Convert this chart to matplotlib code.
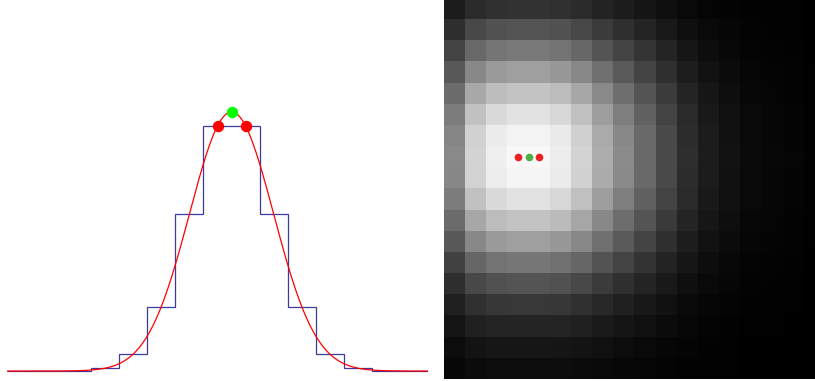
import numpy as np
import matplotlib
matplotlib.use('Agg')
import matplotlib.pyplot as plt

# 1D profile (histogram bins, normalised to the peak bin)
bin_edges = np.arange(16)
bin_values = [0.0, 0.0001, 0.0013, 0.011, 0.068, 0.262, 0.64, 1.0,
              1.0, 0.64, 0.262, 0.068, 0.011, 0.0013, 0.0001]

# gaussian fit
fit_amp = 1.056
fit_mu = 8.0
fit_sigma = 1.5

# marked points
peak_bins_x = [7.5, 8.5]
peak_bins_y = [1.0, 1.0]
sub_peak_x = [8.0]
sub_peak_y = [1.056]

# 2D image: row / column grey levels through the peak (0-255)
row_profile = [51, 85, 122, 160, 197, 227, 245, 249, 246, 227, 196, 160,
               120, 85, 58, 38, 23, 14]
col_profile = [136, 211, 238, 247, 247, 236, 210, 172, 138, 106, 74, 46,
               28, 18, 10, 7, 5, 2]
img_peak = 248.0

img_red_x = [3.0, 4.0]
img_red_y = [7.0, 7.0]
img_green_x = [3.5]
img_green_y = [7.0]

fig = plt.figure(figsize=(8.15, 3.81), dpi=100)
W, H = 815.0, 381.0

# left: profile + fit
ax1 = fig.add_axes([7 / W, (H - 383.3) / H, 421 / W, 294.4 / H])
ax1.stairs(bin_values, bin_edges, color='#3a3aa0', linewidth=0.9)
xs = np.linspace(0, 15, 400)
ax1.plot(xs, fit_amp * np.exp(-(xs - fit_mu) ** 2 / (2 * fit_sigma ** 2)),
         color='red', linewidth=0.9)
ax1.plot(peak_bins_x, peak_bins_y, 'o', color='red', markersize=7.2,
         clip_on=False)
ax1.plot(sub_peak_x, sub_peak_y, 'o', color='#00ff00', markersize=7.2,
         clip_on=False)
ax1.set_xlim(0, 15)
ax1.set_ylim(-0.05, 1.15)
ax1.axis('off')

# right: image
img = np.outer(row_profile, col_profile) / img_peak
ax2 = fig.add_axes([444 / W, (H - 379.4) / H, 380.5 / W, 380.5 / H])
ax2.imshow(img, cmap='gray', vmin=0, vmax=255, interpolation='nearest',
           aspect='auto')
ax2.plot(img_red_x, img_red_y, 'o', color='#e82020', markersize=5.5,
         markeredgewidth=0)
ax2.plot(img_green_x, img_green_y, 'o', color='#4cb044', markersize=5.5,
         markeredgewidth=0)
ax2.set_xlim(-0.5, 17.5)
ax2.set_ylim(17.5, -0.5)
ax2.axis('off')

fig.savefig('out.png', dpi=100)
